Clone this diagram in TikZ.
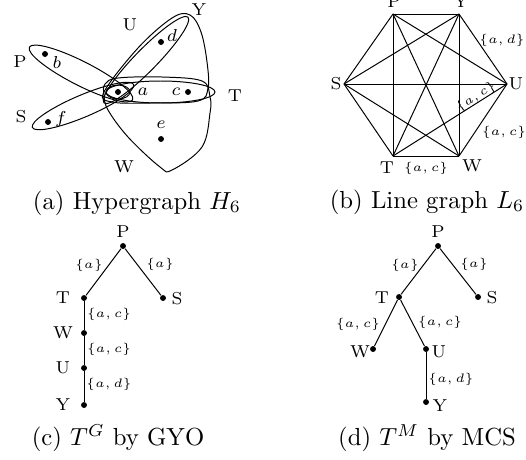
\documentclass[tikz,border=0pt]{standalone}
\usetikzlibrary{calc}
\begin{document}
\begin{tikzpicture}[x=0.405pt,y=-0.405pt,
  dot/.style={circle,fill=black,inner sep=0pt,minimum size=2.4pt},
  vlab/.style={font=\scriptsize,inner sep=0.5pt},
  elab/.style={font=\tiny,inner sep=0.5pt},
  captext/.style={font=\normalsize,inner sep=0pt},
  hedge/.style={draw=black,line width=0.4pt},
  tedge/.style={draw=black,line width=0.4pt}]
\useasboundingbox (0,0) rectangle (526,459);

% ---------------- (a) Hypergraph ----------------
\node[dot] (vb) at (45,54) {};
\node[dot] (vf) at (48,122) {};
\node[dot] (va) at (118,92) {};
\node[dot] (vc) at (188,92) {};
\node[dot] (vd) at (161,42) {};
\node[dot] (ve) at (161,139) {};
\node[vlab] (lb) at (57,62) {$b$};
\node[vlab] (lf) at (61,119) {$f$};
\node[vlab] (la) at (143,92) {$a$};
\node[vlab] (lc) at (176,92) {$c$};
\node[vlab] (ld) at (172,35) {$d$};
\node[vlab] (le) at (161,125) {$e$};
\node[vlab] (hP) at (20,62) {P};
\node[vlab] (hS) at (21,117) {S};
\node[vlab] (hU) at (130,25) {U};
\node[vlab] (hY) at (199,10) {Y};
\node[vlab] (hT) at (235,96) {T};
\node[vlab] (hW) at (124,167) {W};
% P = {a,b}
\draw[hedge, rotate around={-27:(81,73.5)}] (81,73.5) ellipse (58 and 12);
% S = {a,f}
\draw[hedge, rotate around={23:(83,106)}] (83,106) ellipse (55 and 11);
% small ellipse around a
\draw[hedge] (118,92) ellipse (12 and 7);
% T = {a,c}
\draw[hedge] (160.5,92) ellipse (54.5 and 11);
% Y = {a,d}
\draw[hedge, rotate around={45.6:(146,60)}] (146,60) ellipse (60 and 11);
% U = {a,c,d}
\draw[hedge] plot[smooth cycle, tension=0.6] coordinates {
  (104,92) (138,48) (172,18) (190,15) (201,32) (207,62) (208,88) (198,101) (150,103) (112,102)};
% W = {a,c,e}
\draw[hedge] plot[smooth cycle, tension=0.6] coordinates {
  (105,84) (118,78) (162,77) (202,81) (210,97) (210,113) (202,147) (172,170) (160,167) (128,137) (108,110) (104,95)};
\node[captext] (capa) at (137,203) {(a) Hypergraph $H_6$};

% ---------------- (b) Line graph ----------------
\coordinate (bP) at (393,14);
\coordinate (bY) at (459,14);
\coordinate (bS) at (344,84);
\coordinate (bU) at (507,84);
\coordinate (bT) at (393,156);
\coordinate (bW) at (459,156);
\node[vlab] (lbP) at (394,2) {P};
\node[vlab] (lbY) at (461,2) {Y};
\node[vlab] (lbS) at (336,84) {S};
\node[vlab] (lbU) at (516,84) {U};
\node[vlab] (lbT) at (387,168) {T};
\node[vlab] (lbW) at (472,166) {W};
\foreach \p/\q in {bP/bY,bP/bS,bP/bU,bP/bT,bP/bW,bY/bS,bY/bU,bY/bT,bY/bW,bS/bU,bS/bT,bS/bW,bU/bT,bU/bW,bT/bW}
  \draw[tedge] (\p) -- (\q);
\node[elab] (bl1) at (502,40) {$\{a,d\}$};
\node[elab] (bl2) at (504,132) {$\{a,c\}$};
\node[elab] (bl3) at (426,168) {$\{a,c\}$};
\node[elab,rotate=32] (bl4) at (476,97) {$\{a,c\}$};
\node[captext] (capb) at (427,202) {(b) Line graph $L_6$};

% ---------------- (c) T^G by GYO ----------------
\node[dot] (cP) at (123,246) {};
\node[dot] (cT) at (84,298) {};
\node[dot] (cS) at (163,298) {};
\node[dot] (cW) at (84,333) {};
\node[dot] (cU) at (84,368) {};
\node[dot] (cY) at (84,405) {};
\node[vlab] (lcP) at (123,232) {P};
\node[vlab] (lcT) at (63,298) {T};
\node[vlab] (lcS) at (177,299) {S};
\node[vlab] (lcW) at (63,333) {W};
\node[vlab] (lcU) at (63,368) {U};
\node[vlab] (lcY) at (63,405) {Y};
\draw[tedge] (cP) -- (cT);
\draw[tedge] (cP) -- (cS);
\draw[tedge] (cT) -- (cW);
\draw[tedge] (cW) -- (cU);
\draw[tedge] (cU) -- (cY);
\node[elab] (cl1) at (89,265) {$\{a\}$};
\node[elab] (cl2) at (160,264) {$\{a\}$};
\node[elab] (cl3) at (109,314) {$\{a,c\}$};
\node[elab] (cl4) at (109,349) {$\{a,c\}$};
\node[elab] (cl5) at (109,384) {$\{a,d\}$};
\node[captext] (capc) at (118,438) {(c) $T^G$ by GYO};

% ---------------- (d) T^M by MCS ----------------
\node[dot] (dP) at (438,246) {};
\node[dot] (dT) at (399,297) {};
\node[dot] (dS) at (478,297) {};
\node[dot] (dW) at (373,349) {};
\node[dot] (dU) at (426,349) {};
\node[dot] (dY) at (426,402) {};
\node[vlab] (ldP) at (438,232) {P};
\node[vlab] (ldT) at (382,298) {T};
\node[vlab] (ldS) at (492,298) {S};
\node[vlab] (ldW) at (360,352) {W};
\node[vlab] (ldU) at (439,352) {U};
\node[vlab] (ldY) at (440,406) {Y};
\draw[tedge] (dP) -- (dT);
\draw[tedge] (dP) -- (dS);
\draw[tedge] (dT) -- (dW);
\draw[tedge] (dT) -- (dU);
\draw[tedge] (dU) -- (dY);
\node[elab] (dl1) at (405,265) {$\{a\}$};
\node[elab] (dl2) at (474,264) {$\{a\}$};
\node[elab] (dl3) at (358,324) {$\{a,c\}$};
\node[elab] (dl4) at (440,322) {$\{a,c\}$};
\node[elab] (dl5) at (451,379) {$\{a,d\}$};
\node[captext] (capd) at (427,438) {(d) $T^M$ by MCS};
\end{tikzpicture}
\end{document}
